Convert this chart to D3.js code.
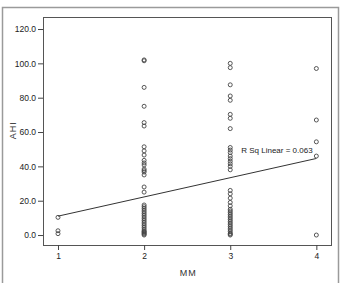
<!DOCTYPE html>
<head>
<meta charset="UTF-8">
<title>AHI by MM</title>
<style>
body { margin: 0; background: #fff; }
.axis text { font: 8.5px "Liberation Sans", Arial, sans-serif; fill: #222; }
.axis path, .axis line { stroke: #444; }
.pt { fill: none; stroke: #444; stroke-width: 0.9px; }
.fit { fill: none; stroke: #333; stroke-width: 1px; }
.lbl { font: 9px "Liberation Sans", Arial, sans-serif; fill: #333; }
.rsq { font: 8px "Liberation Sans Narrow", "Liberation Sans", Arial, sans-serif; fill: #222; }
</style>
<body>
<script src="https://cdn.jsdelivr.net/npm/d3@7"></script>
<script>

// AHI values, one array per MM group
var mm1 = [10.3, 2.5, 0.8];
var mm2 = [102, 101.5, 86, 75, 65.5, 63.5, 51.4, 49, 46.6, 43.5, 42, 40.8, 38.4, 37.5, 36.7, 35,
           28, 25, 17.5, 16.5, 15.5, 14.5, 13.5, 12.5, 11.5, 10.5, 9.5, 8.5, 7.5, 6.5, 5.5,
           4.5, 3.5, 2.5, 2, 1.5, 1, 0.5, 0];
var mm3 = [100, 97.5, 87.5, 81, 78.5, 70.3, 68, 62, 51, 49.5, 48, 46, 44.5, 43, 41.5, 40, 38,
           26, 24, 21.5, 19, 17, 15, 14, 13, 12, 11, 10, 9, 8, 7, 6, 5, 4, 3, 2, 1, 0.5, 0];
var mm4 = [97, 67, 54.3, 46, 0];

var groups = [1, 2, 3, 4];
var yTicks = [0, 20, 40, 60, 80, 100, 120];

// linear fit line
var fitX = [1, 4];
var fitY = [11, 44.6];
var rsq = "0.063";

var points = [];
[mm1, mm2, mm3, mm4].forEach(function(arr, i) {
  arr.forEach(function(v) { points.push({mm: groups[i], ahi: v}); });
});

var W = 343, H = 283;
var margin = {top: 17, right: 12, bottom: 38, left: 43};

var svg = d3.select("body").append("svg")
    .attr("width", W)
    .attr("height", H);

// outer frame
svg.append("rect")
    .attr("x", 2.5).attr("y", 7.5)
    .attr("width", 336).attr("height", 300)
    .attr("fill", "none")
    .attr("stroke", "#9a9a9a")
    .attr("stroke-width", 1.5);

var x = d3.scaleLinear().domain([0.826, 4.17]).range([margin.left, W - margin.right]);
var y = d3.scaleLinear().domain([-5.8, 127]).range([H - margin.bottom, margin.top]);

// plot frame
svg.append("rect")
    .attr("x", margin.left + 0.5).attr("y", margin.top + 0.5)
    .attr("width", W - margin.right - margin.left).attr("height", H - margin.bottom - margin.top)
    .attr("fill", "none")
    .attr("stroke", "#555")
    .attr("stroke-width", 1);

svg.append("g")
    .attr("class", "axis")
    .attr("transform", "translate(" + margin.left + ",0)")
    .call(d3.axisLeft(y).tickValues(yTicks).tickFormat(d3.format(".1f")).tickSize(5).tickPadding(2))
    .select(".domain").remove();

svg.append("g")
    .attr("class", "axis")
    .attr("transform", "translate(0," + (H - margin.bottom) + ")")
    .call(d3.axisBottom(x).tickValues(groups).tickFormat(d3.format("d")).tickSize(5).tickPadding(3))
    .select(".domain").remove();

// axis titles
svg.append("text")
    .attr("class", "lbl")
    .attr("x", x(2.5) + 1)
    .attr("y", 276)
    .attr("text-anchor", "middle")
    .attr("letter-spacing", "1px")
    .text("MM");

svg.append("text")
    .attr("class", "lbl")
    .attr("transform", "translate(16," + y(61) + ") rotate(-90)")
    .attr("text-anchor", "middle")
    .attr("letter-spacing", "1px")
    .text("AHI");

// fit line
svg.append("path")
    .attr("class", "fit")
    .attr("d", d3.line().x(function(d) { return x(d[0]); }).y(function(d) { return y(d[1]); })(d3.zip(fitX, fitY)));

// points
svg.selectAll("circle.pt")
    .data(points)
  .enter().append("circle")
    .attr("class", "pt")
    .attr("cx", function(d) { return x(d.mm); })
    .attr("cy", function(d) { return y(d.ahi); })
    .attr("r", 2);

svg.append("text")
    .attr("class", "rsq")
    .attr("x", x(3) + 11)
    .attr("y", y(47.5))
    .text("R Sq Linear = " + rsq);

</script>
</body>
